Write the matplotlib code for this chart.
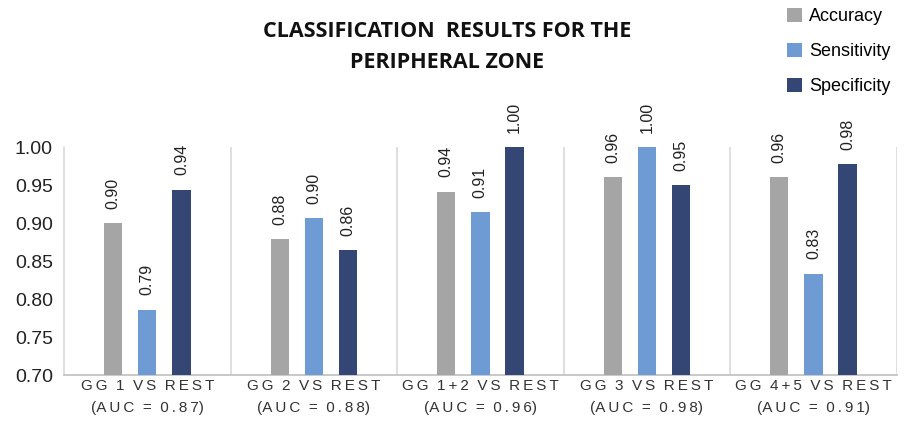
"""
Classification results for the peripheral zone - grouped bar chart
"""

import numpy as np
import matplotlib.pyplot as plt

# Data
groups = ["GG 1 VS REST", "GG 2 VS REST", "GG 1+2 VS REST",
          "GG 3 VS REST", "GG 4+5 VS REST"]
auc_values = ["0.87", "0.88", "0.96", "0.98", "0.91"]
accuracy = [0.90, 0.879, 0.941, 0.96, 0.96]
sensitivity = [0.786, 0.906, 0.914, 1.00, 0.833]
specificity = [0.944, 0.864, 1.00, 0.95, 0.977]
acc_labels = ["0.90", "0.88", "0.94", "0.96", "0.96"]
sens_labels = ["0.79", "0.90", "0.91", "1.00", "0.83"]
spec_labels = ["0.94", "0.86", "1.00", "0.95", "0.98"]

series_names = ["Accuracy", "Sensitivity", "Specificity"]
colors = ["#A5A5A5", "#6F9BD4", "#344673"]

plt.rcParams['font.family'] = ['Liberation Sans', 'DejaVu Sans']


def spaced(s):
    # mimic letter spacing with thin spaces between characters
    words = s.split(" ")
    return "  ".join("\u2009".join(w) for w in words)


fig = plt.figure(figsize=(9.07, 4.26), dpi=100)
ax = fig.add_axes([0.0706, 0.1197, 0.918, 0.5352])

x = np.arange(len(groups))
offset = 0.205
width = 0.11

series = [accuracy, sensitivity, specificity]
labels = [acc_labels, sens_labels, spec_labels]
for i, (vals, labs) in enumerate(zip(series, labels)):
    pos = x + (i - 1) * offset
    ax.bar(pos, np.array(vals) - 0.70, width, bottom=0.70, color=colors[i],
           label=series_names[i], clip_on=False, zorder=3)
    for p, v, t in zip(pos, vals, labs):
        ax.text(p, v + 0.019, t, rotation=90, ha='center', va='bottom',
                fontsize=11.5, color='#222222', clip_on=False)

# vertical separators between categories
for b in np.arange(1, len(groups) + 1) - 0.5:
    ax.axvline(b, color='#D9D9D9', lw=1.2, zorder=1)

ax.set_xlim(-0.5, len(groups) - 0.5)
ax.set_ylim(0.70, 1.00)
yt = np.arange(0.70, 1.001, 0.05)
ax.set_yticks(yt)
ax.set_yticklabels([f"{v:.2f}" for v in yt])
ax.tick_params(axis='y', labelsize=14, length=0, pad=8, labelcolor='#222222')

xlabels = [f"{spaced(g)}\n({spaced('AUC = ' + a)})" for g, a in zip(groups, auc_values)]
ax.set_xticks(x)
ax.set_xticklabels(xlabels, fontsize=11, color='#333333', linespacing=1.75)
ax.tick_params(axis='x', length=0, pad=3)

for s in ['top', 'right']:
    ax.spines[s].set_visible(False)
ax.spines['left'].set_color('#D9D9D9')
ax.spines['left'].set_linewidth(1.2)
ax.spines['bottom'].set_color('#BFBFBF')
ax.spines['bottom'].set_linewidth(1.2)

fig.text(0.493, 0.89, "CLASSIFICATION  RESULTS FOR THE\nPERIPHERAL ZONE",
         ha='center', va='center', fontsize=15.5, fontweight='bold',
         family='Open Sans', linespacing=1.6, color='#111111')

leg = fig.legend(loc='upper left', bbox_to_anchor=(0.85, 1.02), frameon=False,
                 fontsize=13, handlelength=0.8, handleheight=0.8,
                 handletextpad=0.4, labelspacing=1.0)

fig.savefig("out.png", dpi=100)
